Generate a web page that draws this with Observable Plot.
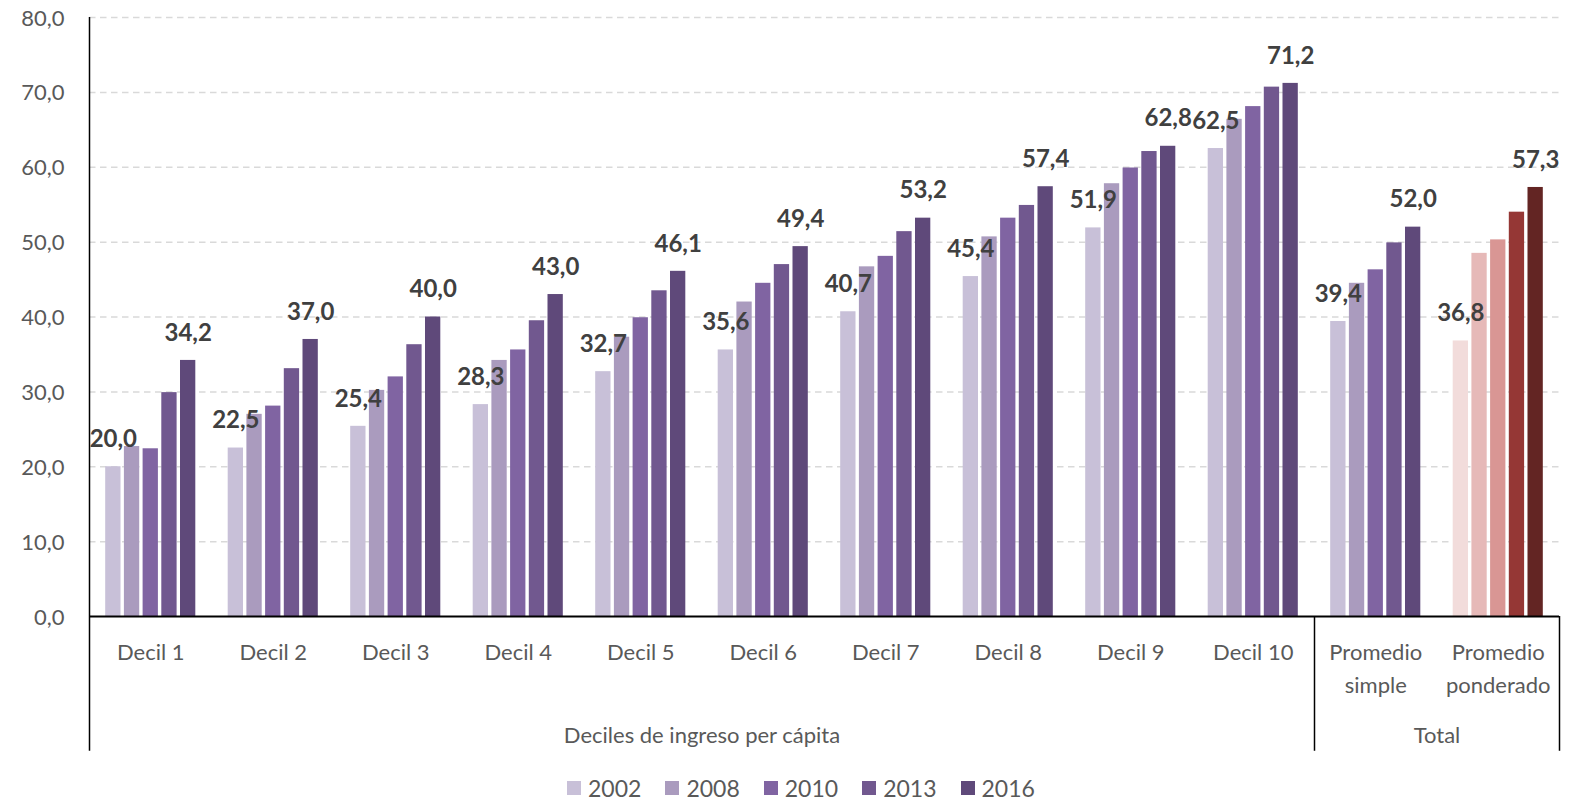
<!DOCTYPE html>
<html><head><meta charset="utf-8">
<script src="https://cdn.jsdelivr.net/npm/d3@7"></script>
<script src="https://cdn.jsdelivr.net/npm/@observablehq/plot@0.6"></script>
<style>
body{margin:0;background:#fff;font-family:Lato,"Open Sans",sans-serif;}
#wrap{position:relative;width:1583px;height:801px;overflow:hidden;}
#legend{position:absolute;left:567px;top:775px;height:26px;display:flex;align-items:center;font-size:23px;line-height:23px;color:#595959;}
.item{display:flex;align-items:center;margin-right:24px;}
.sw{width:14px;height:14px;margin-right:7px;}
</style></head><body><div id="wrap"><div id="chart"></div><div id="legend"></div></div>
<script>
// ---- data ----
const categories = ["Decil 1","Decil 2","Decil 3","Decil 4","Decil 5","Decil 6","Decil 7","Decil 8","Decil 9","Decil 10","Promedio simple","Promedio ponderado"];
const tickLabels = ["Decil 1","Decil 2","Decil 3","Decil 4","Decil 5","Decil 6","Decil 7","Decil 8","Decil 9","Decil 10","Promedio\nsimple","Promedio\nponderado"];
const superGroups = ["Deciles de ingreso per cápita","Total"];
const superGroupSizes = [10, 2];
const years = ["2002","2008","2010","2013","2016"];
const v2002 = [20.0, 22.5, 25.4, 28.3, 32.7, 35.6, 40.7, 45.4, 51.9, 62.5, 39.4, 36.8];
const v2008 = [22.7, 27.0, 30.2, 34.2, 37.3, 42.0, 46.7, 50.7, 57.8, 66.4, 44.5, 48.5];
const v2010 = [22.4, 28.1, 32.0, 35.6, 39.9, 44.5, 48.1, 53.2, 59.9, 68.1, 46.3, 50.3];
const v2013 = [29.9, 33.1, 36.3, 39.5, 43.5, 47.0, 51.4, 54.9, 62.1, 70.7, 49.9, 54.0];
const v2016 = [34.2, 37.0, 40.0, 43.0, 46.1, 49.4, 53.2, 57.4, 62.8, 71.2, 52.0, 57.3];
const seriesValues = [v2002, v2008, v2010, v2013, v2016];
const labeledYears = ["2002","2016"];
const highlightCategory = "Promedio ponderado";
const purples = ["#c8c0d8","#aa9bbe","#8064a2","#71588f","#5f497a"];
const reds = ["#f2dcdb","#e6b9b8","#d99694","#953735","#632523"];
const yTicks = [0,10,20,30,40,50,60,70,80];

// ---- layout constants ----
const STEP = 18.7 / 122.5;   // bar step within group (group units)
const BAR_W = 15.3 / 122.5;  // bar width (group units)
const fmt = v => v.toFixed(1).replace(".", ",");

const data = [];
categories.forEach((c, ci) => years.forEach((y, yi) =>
  data.push({category: c, ci, year: y, yi, value: seriesValues[yi][ci]})));
const pos = d => d.ci + (d.yi - (years.length - 1) / 2) * STEP;

let start = 0;
const supers = superGroups.map((name, k) => {
  const s = start; start += superGroupSizes[k];
  return {name, x1: s - 0.5, x2: start - 0.5, center: (s + start - 1) / 2};
});
const edges = [supers[0].x1, ...supers.map(s => s.x2)];
const yMax = yTicks[yTicks.length - 1];
const yBelow = -18;

const chart = Plot.plot({
  width: 1583, height: 770,
  marginTop: 17, marginBottom: 154, marginLeft: 89, marginRight: 24,
  x: {type: "linear", domain: [-0.5, categories.length - 0.5], label: null},
  y: {domain: [0, yMax], label: null},
  color: {type: "identity"},
  style: {fontFamily: "Lato, 'Open Sans', sans-serif", fontSize: "22px", color: "#595959", background: "#fff", overflow: "visible"},
  marks: [
    Plot.gridY(yTicks.filter(t => t > 0), {stroke: "#d9d9d9", strokeOpacity: 1, strokeWidth: 1.5, strokeDasharray: "6.5,4.5"}),
    Plot.rectY(data, {
      x1: d => pos(d) - BAR_W / 2, x2: d => pos(d) + BAR_W / 2, y: "value",
      fill: d => (d.category === highlightCategory ? reds : purples)[d.yi]
    }),
    Plot.ruleY([0], {stroke: "#000", strokeWidth: 2}),
    Plot.ruleX([edges[0]], {y1: yMax, y2: yBelow, stroke: "#000", strokeWidth: 1.5}),
    Plot.ruleX(edges.slice(1), {y1: 0, y2: yBelow, stroke: "#000", strokeWidth: 1.5}),
    Plot.axisY(yTicks, {tickSize: 0, tickPadding: 25, tickFormat: fmt, label: null, fontSize: 22, dy: 1}),
    Plot.axisX(d3.range(categories.length), {tickSize: 0, tickPadding: 19.6, tickFormat: i => tickLabels[i], lineHeight: 1.5, fontSize: 22, label: null}),
    Plot.axisX(supers.map(s => s.center), {tickSize: 0, tickPadding: 110.5, tickFormat: v => supers.find(s => s.center === v).name, fontSize: 22, label: null}),
    Plot.text(data.filter(d => labeledYears.includes(d.year)), {
      x: pos, y: "value", text: d => fmt(d.value), dy: -27.5,
      fontWeight: "bold", fontSize: 24, fill: "#404040"
    })
  ]
});
document.getElementById("chart").append(chart);

const legend = d3.select("#legend");
years.forEach((y, i) => {
  const it = legend.append("div").attr("class", "item");
  it.append("div").attr("class", "sw").style("background", purples[i]);
  it.append("span").text(y);
});
</script></body></html>
